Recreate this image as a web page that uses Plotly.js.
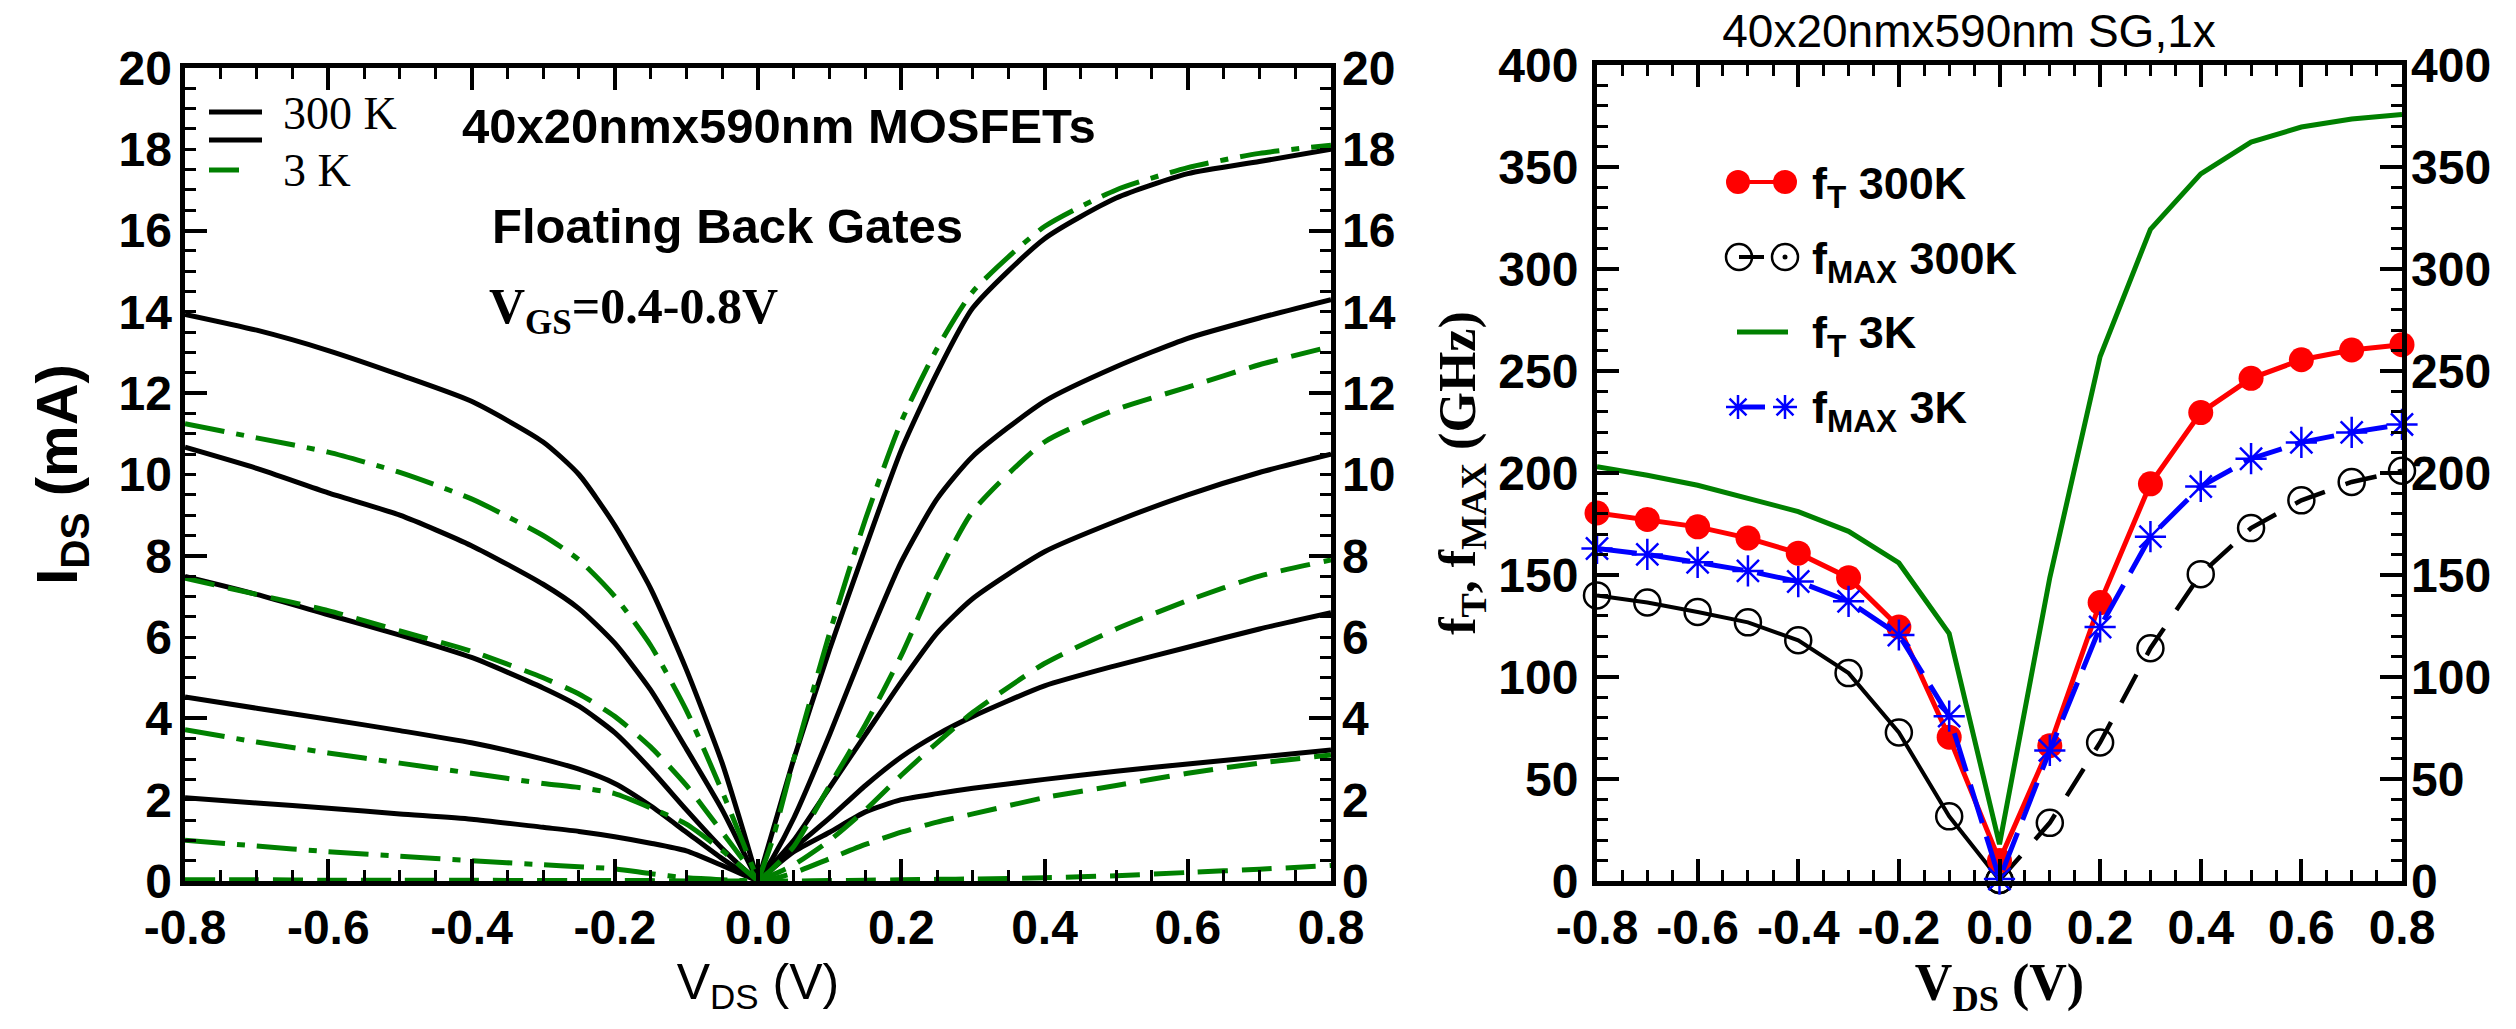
<!DOCTYPE html>
<html>
<head>
<meta charset="utf-8">
<script src="https://cdn.plot.ly/plotly-3.0.1.min.js"></script>
<style>
  html, body { margin: 0; padding: 0; background: #ffffff; }
  #chart { width: 2516px; height: 1029px; }
</style>
</head>
<body>
<div id="chart"></div>
<script>
// ---------- Left panel: drain current vs drain voltage (mA) ----------
const vdsGrid = [-0.8, -0.7, -0.6, -0.5, -0.4, -0.3, -0.25, -0.2, -0.15, -0.1, -0.05, -0.02, 0,
                 0.02, 0.05, 0.1, 0.15, 0.2, 0.25, 0.3, 0.4, 0.5, 0.6, 0.7, 0.8];

// 300 K, VGS = 0.8 ... 0.4 V
const ids300K_vgs08 = [13.94, 13.55, 13.05, 12.45, 11.8, 10.8, 10.0, 8.75, 7.2, 5.2, 2.9, 1.2, 0,
                       1.2, 3.0, 5.7, 8.2, 10.6, 12.5, 14.1, 15.8, 16.8, 17.4, 17.7, 18.0];
const ids300K_vgs07 = [10.67, 10.15, 9.55, 9.0, 8.25, 7.3, 6.7, 5.85, 4.7, 3.25, 1.75, 0.7, 0,
                       0.55, 1.55, 3.6, 5.8, 7.85, 9.4, 10.45, 11.8, 12.65, 13.35, 13.85, 14.3];
const ids300K_vgs06 = [7.49, 7.05, 6.55, 6.05, 5.5, 4.75, 4.3, 3.65, 2.75, 1.75, 0.8, 0.3, 0,
                       0.4, 1.0, 2.3, 3.6, 4.9, 6.1, 6.95, 8.1, 8.85, 9.5, 10.05, 10.5];
const ids300K_vgs05 = [4.53, 4.25, 3.98, 3.7, 3.4, 3.0, 2.75, 2.4, 1.85, 1.2, 0.55, 0.2, 0,
                       0.3, 0.8, 1.55, 2.35, 3.05, 3.6, 4.05, 4.8, 5.3, 5.75, 6.2, 6.6];
const ids300K_vgs04 = [2.05, 1.92, 1.79, 1.65, 1.52, 1.32, 1.22, 1.09, 0.93, 0.74, 0.38, 0.15, 0,
                       0.3, 0.72, 1.2, 1.7, 2.0, 2.15, 2.28, 2.5, 2.7, 2.88, 3.05, 3.22];

// 3 K, VGS = 0.8 ... 0.4 V
const ids3K_vgs08 = [11.25, 10.9, 10.55, 10.05, 9.4, 8.5, 7.9, 7.0, 5.8, 4.2, 2.2, 0.9, 0,
                     1.0, 3.0, 6.1, 8.9, 11.3, 13.1, 14.5, 16.1, 17.0, 17.55, 17.9, 18.1];
const ids3K_vgs07 = [7.45, 7.05, 6.65, 6.15, 5.65, 5.0, 4.6, 4.05, 3.3, 2.35, 1.2, 0.5, 0,
                     0.3, 0.85, 2.35, 3.85, 5.55, 7.5, 9.1, 10.8, 11.6, 12.15, 12.7, 13.15];
const ids3K_vgs06 = [3.72, 3.42, 3.15, 2.9, 2.65, 2.4, 2.3, 2.15, 1.8, 1.4, 0.75, 0.3, 0,
                     0.15, 0.4, 1.0, 1.75, 2.6, 3.4, 4.15, 5.35, 6.2, 6.9, 7.5, 7.9];
const ids3K_vgs05 = [1.0, 0.86, 0.72, 0.61, 0.5, 0.4, 0.35, 0.3, 0.18, 0.08, 0.03, 0.01, 0,
                     0.05, 0.2, 0.55, 0.9, 1.2, 1.45, 1.65, 2.05, 2.35, 2.65, 2.9, 3.1];
const ids3K_vgs04 = [0.03, 0.03, 0.02, 0.02, 0.02, 0.01, 0.01, 0.01, 0.01, 0, 0, 0, 0,
                     0, 0, 0.01, 0.02, 0.03, 0.04, 0.05, 0.08, 0.13, 0.21, 0.29, 0.38];

const vdsTickVals = [-0.8, -0.6, -0.4, -0.2, 0, 0.2, 0.4, 0.6, 0.8];
const vdsTickText = ['-0.8', '-0.6', '-0.4', '-0.2', '0.0', '0.2', '0.4', '0.6', '0.8'];

// ---------- Right panel: cut-off frequencies (GHz) ----------
const vdsBias = [-0.8, -0.7, -0.6, -0.5, -0.4, -0.3, -0.2, -0.1, 0, 0.1, 0.2, 0.3, 0.4, 0.5, 0.6, 0.7, 0.8];
const fT300K   = [180.4, 177.2, 173.6, 168.1, 160.7, 148.7, 124.5, 70.5, 10, 66.3, 136.5, 194.7, 229.6, 246.4, 255.5, 260.3, 262.9];
const fMax300K = [140.0, 136.5, 131.9, 126.8, 118.0, 101.9, 72.8, 31.7, 0.5, 28.5, 67.9, 114.1, 150.4, 173.0, 186.6, 195.6, 201.1];
const fT3K     = [203.1, 198.9, 194.0, 187.5, 181.1, 171.4, 155.9, 121.3, 18, 148.7, 257.1, 319.5, 346.6, 362.2, 369.6, 373.5, 375.7];
const fMax3K   = [163.0, 160.1, 156.2, 152.0, 146.8, 137.1, 120.6, 80.8, 1, 64.0, 124.5, 168.8, 193.4, 207.0, 215.0, 219.9, 223.8];

// ---------- styling ----------
const W = 2516, H = 1029;
const SANS = 'Liberation Sans, Arial, Helvetica, sans-serif';
const SERIF = 'Liberation Serif, Times New Roman, Times, serif';
const GREEN = '#008000';
const DASH = '30px,14px';
const DASHDOT = '40px,12px,8px,12px';
const px = v => v / W;          // page pixel -> paper x
const py = v => 1 - v / H;      // page pixel -> paper y

const ZERO_IDX = vdsGrid.indexOf(0);

// one I-V curve split at VDS = 0 so each branch can carry its own dash style
function branch(curve, side, yaxis, color, dash) {
  const neg = side === 'neg';
  return {
    x: neg ? vdsGrid.slice(0, ZERO_IDX + 1) : vdsGrid.slice(ZERO_IDX),
    y: neg ? curve.slice(0, ZERO_IDX + 1) : curve.slice(ZERO_IDX),
    xaxis: 'x', yaxis: yaxis, mode: 'lines', hoverinfo: 'skip',
    line: { color: color, width: 5, dash: dash, shape: 'spline', smoothing: 0.6 }
  };
}

const traces = [];
// 300 K on the base axis
[ids300K_vgs08, ids300K_vgs07, ids300K_vgs06, ids300K_vgs05, ids300K_vgs04].forEach(c => {
  traces.push(branch(c, 'neg', 'y', '#000000', 'solid'));
  traces.push(branch(c, 'pos', 'y', '#000000', 'solid'));
});
// 3 K: negative branches on the left-label axis, positive branches on the right-label axis (same scale)
const greenStyles = [
  [ids3K_vgs08, DASHDOT, DASHDOT],
  [ids3K_vgs07, DASH, DASH],
  [ids3K_vgs06, DASHDOT, DASH],
  [ids3K_vgs05, DASHDOT, DASH],
  [ids3K_vgs04, DASH, DASH]
];
greenStyles.forEach(([c, dn, dp]) => traces.push(branch(c, 'neg', 'y3', GREEN, dn)));
greenStyles.forEach(([c, dn, dp]) => traces.push(branch(c, 'pos', 'y4', GREEN, dp)));

// right panel
const BIAS0 = vdsBias.indexOf(0);
traces.push({
  x: vdsBias, y: fT3K, xaxis: 'x2', yaxis: 'y2', mode: 'lines', hoverinfo: 'skip',
  line: { color: GREEN, width: 5 }
});
const circleOpen = { symbol: 'circle-open', size: 26, color: '#000000', line: { width: 2.5, color: '#000000' } };
traces.push({
  x: vdsBias.slice(0, BIAS0 + 1), y: fMax300K.slice(0, BIAS0 + 1), xaxis: 'x2', yaxis: 'y2',
  mode: 'lines+markers', cliponaxis: false, hoverinfo: 'skip',
  line: { color: '#000000', width: 4 }, marker: circleOpen
});
traces.push({
  x: vdsBias.slice(BIAS0), y: fMax300K.slice(BIAS0), xaxis: 'x2', yaxis: 'y2',
  mode: 'lines+markers', cliponaxis: false, hoverinfo: 'skip',
  line: { color: '#000000', width: 4.5, dash: '32px,22px' }, marker: circleOpen
});
traces.push({
  x: vdsBias, y: fT300K, xaxis: 'x2', yaxis: 'y2', mode: 'lines+markers', cliponaxis: false, hoverinfo: 'skip',
  line: { color: '#ff0000', width: 5 },
  marker: { symbol: 'circle', size: 25, color: '#ff0000' }
});
// f_MAX 3 K sits on the right-label axis (same 0-400 scale), drawn last
traces.push({
  x: vdsBias, y: fMax3K, xaxis: 'x2', yaxis: 'y5', mode: 'lines+markers', cliponaxis: false, hoverinfo: 'skip',
  line: { color: '#0000ff', width: 5, dash: '40px,14px' },
  marker: { symbol: 'asterisk-open', size: 26, color: '#0000ff', line: { width: 2.5, color: '#0000ff' } }
});

// ---------- axes ----------
const tickFont = { family: SANS, size: 48, color: '#000000', weight: 'bold' };
const frame = { showline: true, linewidth: 5, linecolor: '#000000', mirror: 'ticks',
                showgrid: false, zeroline: false, fixedrange: true };
const labelOnly = { ticks: '', showline: false, showgrid: false, zeroline: false, fixedrange: true, tickfont: tickFont };

const layout = {
  width: W, height: H,
  margin: { l: 0, r: 0, t: 0, b: 0 },
  paper_bgcolor: '#ffffff', plot_bgcolor: '#ffffff',
  showlegend: false,
  title: {
    text: '40x20nmx590nm SG,1x',
    font: { family: SANS, size: 46, color: '#000000' },
    x: px(1969), xref: 'paper', xanchor: 'center',
    y: py(31), yref: 'paper', yanchor: 'middle'
  },
  xaxis: Object.assign({}, frame, {
    domain: [px(185), px(1331)], anchor: 'y', range: [-0.8, 0.8],
    tickmode: 'array', tickvals: vdsTickVals, ticktext: vdsTickText,
    ticks: 'inside', ticklen: 22, tickwidth: 4, tickcolor: '#000000',
    minor: { tick0: 0, dtick: 0.05, ticks: 'inside', ticklen: 11, tickwidth: 3, tickcolor: '#000000', showgrid: false },
    tickfont: tickFont, automargin: false,
    title: { text: 'V<sub>DS</sub> (V)', font: { family: SANS, size: 50, color: '#000000' }, standoff: 12 }
  }),
  yaxis: Object.assign({}, frame, {
    domain: [py(881), py(68)], anchor: 'x', range: [0, 20],
    tick0: 0, dtick: 4, ticks: 'inside', ticklen: 22, tickwidth: 4, tickcolor: '#000000',
    minor: { tick0: 0, dtick: 0.5, ticks: 'inside', ticklen: 11, tickwidth: 3, tickcolor: '#000000', showgrid: false },
    showticklabels: false, automargin: false
  }),
  yaxis3: Object.assign({}, labelOnly, {
    overlaying: 'y', side: 'left', anchor: 'x', range: [0, 20], tick0: 0, dtick: 2, automargin: false,
    ticklabelstandoff: 12,
    title: { text: 'I<sub>DS</sub> (mA)', font: { family: SANS, size: 58, color: '#000000', weight: 'bold' }, standoff: 22 }
  }),
  yaxis4: Object.assign({}, labelOnly, {
    overlaying: 'y', side: 'right', anchor: 'x', range: [0, 20], tick0: 0, dtick: 2, automargin: false,
    ticklabelstandoff: 10
  }),
  xaxis2: Object.assign({}, frame, {
    domain: [px(1597), px(2402)], anchor: 'y2', range: [-0.8, 0.8],
    tickmode: 'array', tickvals: vdsTickVals, ticktext: vdsTickText,
    ticks: 'inside', ticklen: 22, tickwidth: 4, tickcolor: '#000000',
    minor: { tick0: 0, dtick: 0.05, ticks: 'inside', ticklen: 11, tickwidth: 3, tickcolor: '#000000', showgrid: false },
    tickfont: tickFont, automargin: false,
    title: { text: 'V<sub>DS</sub> (V)', font: { family: SERIF, size: 52, color: '#000000', weight: 'bold' }, standoff: 12 }
  }),
  yaxis2: Object.assign({}, frame, {
    domain: [py(881), py(65)], anchor: 'x2', range: [0, 400],
    tick0: 0, dtick: 50, ticks: 'inside', ticklen: 22, tickwidth: 4, tickcolor: '#000000',
    minor: { tick0: 0, dtick: 10, ticks: 'inside', ticklen: 11, tickwidth: 3, tickcolor: '#000000', showgrid: false },
    tickfont: tickFont, automargin: false, ticklabelstandoff: 4,
    title: { text: 'f<sub>T</sub>, f<sub>MAX</sub> (GHz)', font: { family: SERIF, size: 52, color: '#000000', weight: 'bold' }, standoff: 8 }
  }),
  yaxis5: Object.assign({}, labelOnly, {
    overlaying: 'y2', side: 'right', anchor: 'x2', range: [0, 400], tick0: 0, dtick: 50, automargin: false,
    ticklabelstandoff: 8
  }),
  shapes: [],
  annotations: []
};

// ---------- panel texts ----------
function note(text, x, y, font, xanchor) {
  layout.annotations.push({
    text: text, x: px(x), y: py(y), xref: 'paper', yref: 'paper',
    xanchor: xanchor || 'left', yanchor: 'middle', showarrow: false, font: font
  });
}
note('40x20nmx590nm MOSFETs', 779, 126, { family: SANS, size: 49, color: '#000000', weight: 'bold' }, 'center');
note('Floating Back Gates', 727, 226, { family: SANS, size: 49, color: '#000000', weight: 'bold' }, 'center');
note('V<sub>GS</sub>=0.4-0.8V', 487, 310, { family: SERIF, size: 50, color: '#000000', weight: 'bold' });
note('300 K', 281, 113, { family: SERIF, size: 46, color: '#000000' });
note('3 K', 281, 170, { family: SERIF, size: 46, color: '#000000' });

note('f<sub>T</sub> 300K', 1810, 186, { family: SANS, size: 45, color: '#000000', weight: 'bold' });
note('f<sub>MAX</sub> 300K', 1810, 261, { family: SANS, size: 45, color: '#000000', weight: 'bold' });
note('f<sub>T</sub> 3K', 1810, 336, { family: SANS, size: 45, color: '#000000', weight: 'bold' });
note('f<sub>MAX</sub> 3K', 1810, 411, { family: SANS, size: 45, color: '#000000', weight: 'bold' });

// ---------- legend keys ----------
function keyLine(x0, x1, y, color, width) {
  layout.shapes.push({ type: 'line', xref: 'paper', yref: 'paper',
    x0: px(x0), x1: px(x1), y0: py(y), y1: py(y), line: { color: color, width: width } });
}
function keyCircle(cx, cy, r, fill, stroke, width) {
  layout.shapes.push({ type: 'circle', xref: 'paper', yref: 'paper',
    x0: px(cx - r), x1: px(cx + r), y0: py(cy + r), y1: py(cy - r),
    fillcolor: fill, line: { color: stroke, width: width } });
}
function keyAsterisk(cx, cy, r, color) {
  const d = r * 0.7071;
  const p = (x, y) => px(x) + ',' + py(y);
  const path = 'M' + p(cx - r, cy) + 'L' + p(cx + r, cy) +
               'M' + p(cx, cy - r) + 'L' + p(cx, cy + r) +
               'M' + p(cx - d, cy - d) + 'L' + p(cx + d, cy + d) +
               'M' + p(cx - d, cy + d) + 'L' + p(cx + d, cy - d);
  layout.shapes.push({ type: 'path', xref: 'paper', yref: 'paper', path: path,
    line: { color: color, width: 2.5 } });
}

// left panel key
keyLine(209, 262, 112, '#000000', 5);
keyLine(209, 262, 140, '#000000', 5);
keyLine(209, 239, 170, GREEN, 5);

// right panel key
keyLine(1738, 1785, 182, '#ff0000', 4);
keyCircle(1738, 182, 12, '#ff0000', '#ff0000', 0);
keyCircle(1785, 182, 12, '#ff0000', '#ff0000', 0);
keyLine(1739, 1764, 257, '#000000', 4);
keyCircle(1739, 257, 13, 'rgba(0,0,0,0)', '#000000', 2.5);
keyCircle(1785, 257, 13, 'rgba(0,0,0,0)', '#000000', 2.5);
keyCircle(1785, 257, 2.5, '#000000', '#000000', 0);
keyLine(1737, 1788, 332, GREEN, 5);
keyLine(1738, 1765, 407, '#0000ff', 5);
keyAsterisk(1738, 407, 12, '#0000ff');
keyAsterisk(1785, 407, 12, '#0000ff');

Plotly.newPlot('chart', traces, layout, { staticPlot: true, displayModeBar: false });
</script>
</body>
</html>
